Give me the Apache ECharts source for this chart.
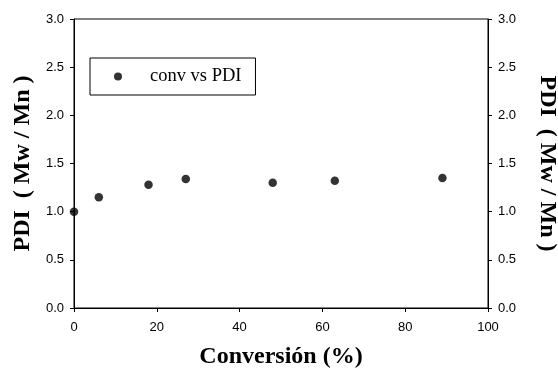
<!DOCTYPE html>
<html>
<head>
<meta charset="utf-8">
<script src="https://cdn.jsdelivr.net/npm/echarts@6/dist/echarts.min.js"></script>
<style>
  html, body { margin: 0; padding: 0; background: #fff; }
  #chart { width: 558px; height: 371px; }
</style>
</head>
<body>
<div id="chart"></div>
<script>
// Conversion (%) vs polydispersity index
const conversion = [0, 6, 18, 27, 48, 63, 89];
const pdi = [1.00, 1.15, 1.28, 1.34, 1.30, 1.32, 1.35];
const seriesName = 'conv vs PDI';
const xTitle = 'Conversión (%)';
const yTitle = 'PDI  ( Mw / Mn )';

const points = conversion.map((c, i) => [c, pdi[i]]);

const tickFont = { fontFamily: 'Liberation Sans, Arial, sans-serif', fontSize: 13, color: '#000' };
const titleFont = { fontFamily: 'Liberation Serif, Times New Roman, serif', fontSize: 24, fontWeight: 'bold', color: '#000' };

const yAxisBase = {
  type: 'value', min: 0, max: 3, interval: 0.5,
  axisLine: { show: true, lineStyle: { color: '#000', width: 1 } },
  axisTick: { show: true, inside: false, length: 4, lineStyle: { color: '#000' } },
  axisLabel: Object.assign({ margin: 10, formatter: v => v.toFixed(1) }, tickFont),
  splitLine: { show: false },
  nameLocation: 'middle',
  nameTextStyle: titleFont
};

const chart = echarts.init(document.getElementById('chart'), null, { renderer: 'canvas' });
chart.setOption({
  animation: false,
  backgroundColor: '#fff',
  grid: {
    left: 74, right: 70, top: 19, bottom: 63,
    containLabel: false, outerBoundsMode: 'none',
    show: true, borderColor: '#000', borderWidth: 1
  },
  legend: {
    left: 90, top: 58,
    data: [{ name: seriesName, icon: 'circle' }],
    itemWidth: 8, itemHeight: 8,
    padding: [9, 14, 9, 24],
    borderColor: '#000', borderWidth: 1,
    textStyle: { fontFamily: 'Liberation Serif, Times New Roman, serif', fontSize: 18.5, color: '#000', padding: [0, 0, 0, 23] }
  },
  xAxis: {
    type: 'value', min: 0, max: 100, interval: 20,
    axisLine: { show: true, onZero: false, lineStyle: { color: '#000', width: 1 } },
    axisTick: { show: true, inside: false, length: 4, lineStyle: { color: '#000' } },
    axisLabel: Object.assign({ margin: 13 }, tickFont),
    splitLine: { show: false },
    name: xTitle, nameLocation: 'middle', nameGap: 37,
    nameTextStyle: titleFont
  },
  yAxis: [
    Object.assign({}, yAxisBase, { position: 'left', name: yTitle, nameGap: 34 }),
    Object.assign({}, yAxisBase, { position: 'right', name: yTitle, nameGap: 47, nameRotate: -90 })
  ],
  series: [{
    name: seriesName,
    type: 'scatter',
    yAxisIndex: 0,
    symbol: 'circle',
    symbolSize: 8.5,
    itemStyle: { color: '#000' },
    data: points
  }]
});
</script>
</body>
</html>
